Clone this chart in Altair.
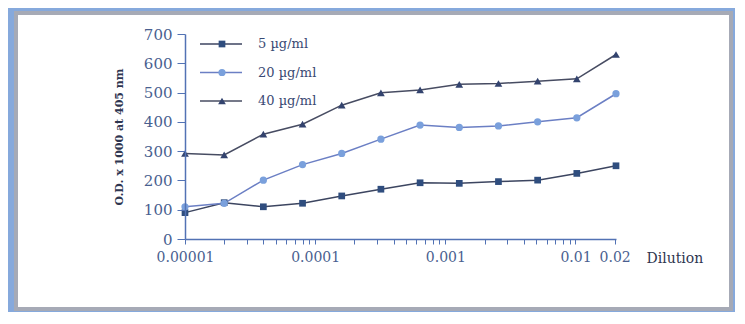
import altair as alt
import pandas as pd

# ---- data ----
dilution = [0.00001, 0.00002, 0.00004, 0.00008, 0.00016, 0.00032,
            0.00064, 0.00128, 0.00256, 0.00512, 0.01024, 0.02048]
od_5 = [90, 124, 110, 122, 147, 170, 192, 190, 196, 201, 224, 250]
od_20 = [110, 122, 201, 254, 292, 341, 389, 381, 386, 400, 414, 496]
od_40 = [292, 287, 358, 392, 457, 499, 509, 528, 531, 539, 547, 630]
series = ["5 µg/ml", "20 µg/ml", "40 µg/ml"]

y_ticks = [0, 100, 200, 300, 400, 500, 600, 700]
major_ticks = [0.00001, 0.0001, 0.001, 0.01, 0.02]
major_labels = ["0.00001", "0.0001", "0.001", "0.01", "0.02"]
minor_mult = [2, 3, 4, 5, 6, 7, 8, 9]
x_ticks = []
for d in [0.00001, 0.0001, 0.001]:
    x_ticks.append(d)
    x_ticks += [d * m for m in minor_mult]
x_ticks += [0.01, 0.02]

line_colors = ["#3c4560", "#6b7fc4", "#474c62"]
fill_colors = ["#2f4d7e", "#7aa0dc", "#33436e"]
shapes = ["square", "circle", "triangle-up"]
sizes = [45, 60, 30]

rows = []
for name, vals in zip(series, [od_5, od_20, od_40]):
    for d, v in zip(dilution, vals):
        rows.append({"dilution": d, "od": v, "series": name})
df = pd.DataFrame(rows)
df_leg = pd.DataFrame({"series": series, "row": [0, 1, 2]})

label_expr = ""
for v, l in zip(major_ticks, major_labels):
    label_expr += f"abs(datum.value - {v}) < {v * 0.01} ? '{l}' : "
label_expr += "''"

axis_col = "#5272b4"
text_col = "#3a4a74"
font = "DejaVu Serif"

xscale = alt.Scale(type="log", domain=[0.00001, 0.02048], nice=False)
yscale = alt.Scale(domain=[0, 700], nice=False)
stroke_scale = alt.Scale(domain=series, range=line_colors)
fill_scale = alt.Scale(domain=series, range=fill_colors)
shape_scale = alt.Scale(domain=series, range=shapes)
size_scale = alt.Scale(domain=series, range=sizes)

frame = alt.Chart(pd.DataFrame({"a": [0]})).mark_rect(
    fill="white", stroke="#a6aab6", strokeWidth=4
).encode(
    x=alt.value(-169), x2=alt.value(546), y=alt.value(-21), y2=alt.value(275)
)

x_enc = alt.X(
    "dilution:Q", scale=xscale,
    axis=alt.Axis(
        values=x_ticks, labelExpr=label_expr, grid=False, tickSize=5,
        labelOverlap=False, labelFlush=False, labelPadding=6, zindex=2,
        domainColor=axis_col, tickColor=axis_col, domainWidth=1.5,
        labelColor="#4a5f90", labelFont=font, labelFontSize=14,
        title="Dilution", titleFont=font, titleFontSize=14,
        titleFontWeight="normal", titleColor="#2e3550",
        titleX=461, titleY=19, titleAlign="left", titleBaseline="middle",
    ),
)
y_enc = alt.Y(
    "od:Q", scale=yscale,
    axis=alt.Axis(
        values=y_ticks, grid=False, tickSize=8, labelPadding=5, zindex=2,
        domainColor=axis_col, tickColor=axis_col, domainWidth=1.5,
        labelColor="#4a5f90", labelFont=font, labelFontSize=15,
        title="O.D. x 1000 at 405 nm", titleFont=font, titleFontSize=11,
        titleFontWeight="bold", titleColor="#2e3550", titlePadding=19,
    ),
)

lines = alt.Chart(df).mark_line(strokeWidth=1.5).encode(
    x=x_enc, y=y_enc,
    stroke=alt.Stroke("series:N", scale=stroke_scale, legend=None),
    detail="series:N",
)
points = alt.Chart(df).mark_point(filled=True, opacity=1, strokeWidth=1).encode(
    x=alt.X("dilution:Q", scale=xscale),
    y=alt.Y("od:Q", scale=yscale),
    shape=alt.Shape("series:N", scale=shape_scale, legend=None),
    fill=alt.Fill("series:N", scale=fill_scale, legend=None),
    size=alt.Size("series:N", scale=size_scale, legend=None),
)

leg_y = alt.Y("row:Q", scale=alt.Scale(domain=[0, 2], range=[10, 67]), axis=None)
leg_rule = alt.Chart(df_leg).mark_rule(strokeWidth=1.5).encode(
    x=alt.value(15), x2=alt.value(57), y=leg_y,
    stroke=alt.Stroke("series:N", scale=stroke_scale, legend=None),
)
leg_pt = alt.Chart(df_leg).mark_point(filled=True, opacity=1).encode(
    x=alt.value(37), y=leg_y,
    shape=alt.Shape("series:N", scale=shape_scale, legend=None),
    fill=alt.Fill("series:N", scale=fill_scale, legend=None),
    size=alt.Size("series:N", scale=size_scale, legend=None),
)
leg_txt = alt.Chart(df_leg).mark_text(
    align="left", baseline="middle", font=font, fontSize=13, color=text_col
).encode(x=alt.value(73), y=leg_y, text="series:N")

chart = alt.layer(frame, lines, points, leg_rule, leg_pt, leg_txt).resolve_scale(
    y="independent"
).properties(
    width=431, height=205,
    padding={"left": 177, "top": 26, "right": 119, "bottom": 73},
    autosize=alt.AutoSizeParams(type="none"),
    background="#86a9dc",
).configure_view(strokeWidth=0)

chart.save("out.html", embed_options={"renderer": "svg", "actions": False})
